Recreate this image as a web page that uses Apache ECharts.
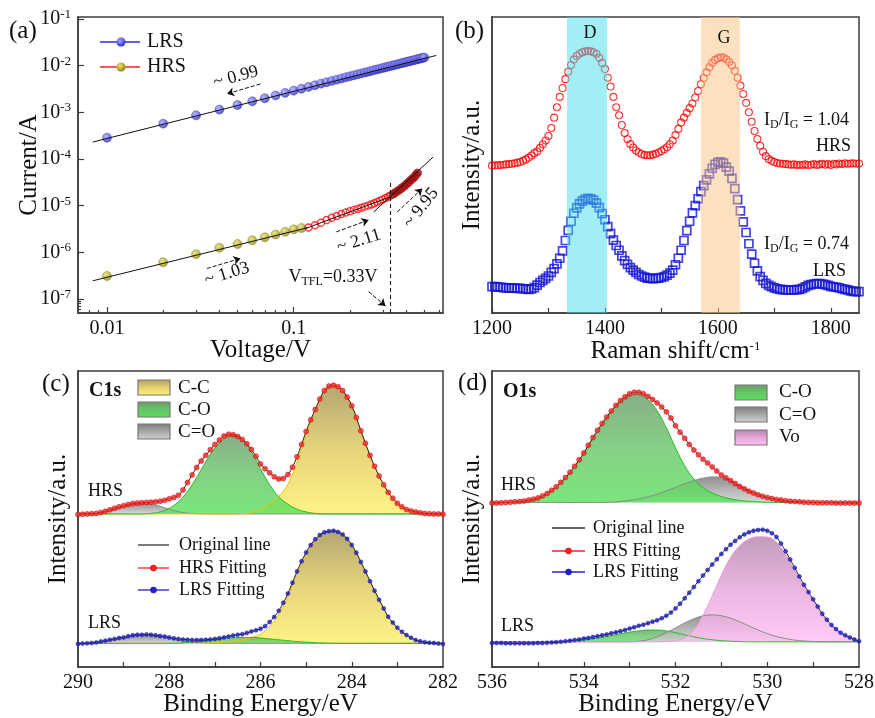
<!DOCTYPE html>
<html><head><meta charset="utf-8">
<script src="https://cdn.jsdelivr.net/npm/echarts@6/dist/echarts.min.js"></script>
<style>html,body{margin:0;padding:0;background:#fff}#c{width:875px;height:718px}</style>
</head><body><div id="c"></div>
<script>
const FONT = 'Liberation Serif';
const TXT = '#111';
const AX = '#3c3c3c';

// ---------- (a) I-V, log-log ----------
const voltageLRS = [0.01,0.02,0.03,0.04,0.05,0.06,0.07,0.08,0.09,0.10,0.11,0.12,0.13,0.14,0.15,0.16,0.17,0.18,0.19,0.20,0.21,0.22,0.23,0.24,0.25,0.26,0.27,0.28,0.29,0.30,0.31,0.32,0.33,0.34,0.35,0.36,0.37,0.38,0.39,0.40,0.41,0.42,0.43,0.44,0.45,0.46,0.47,0.48,0.49,0.50];
const currentLRS = [2.85e-4,5.7e-4,8.6e-4,1.14e-3,1.43e-3,1.72e-3,2.0e-3,2.3e-3,2.6e-3,2.9e-3,3.2e-3,3.5e-3,3.8e-3,4.1e-3,4.4e-3,4.7e-3,5.0e-3,5.3e-3,5.6e-3,5.9e-3,6.2e-3,6.5e-3,6.8e-3,7.1e-3,7.4e-3,7.7e-3,8.0e-3,8.3e-3,8.6e-3,8.9e-3,9.2e-3,9.5e-3,9.8e-3,1.01e-2,1.04e-2,1.07e-2,1.10e-2,1.13e-2,1.16e-2,1.19e-2,1.22e-2,1.25e-2,1.28e-2,1.31e-2,1.34e-2,1.37e-2,1.40e-2,1.43e-2,1.46e-2,1.49e-2];
const voltageHRS1 = [0.01,0.02,0.03,0.04,0.05,0.06,0.07,0.08,0.09,0.10,0.11];
const currentHRS1 = [3.1e-7,6.1e-7,9.1e-7,1.25e-6,1.5e-6,1.8e-6,2.1e-6,2.4e-6,2.75e-6,3.1e-6,3.3e-6];
const voltageHRS2 = [0.12,0.13,0.14,0.15,0.16,0.17,0.18,0.19,0.20,0.21,0.22,0.23,0.24,0.25,0.26,0.27,0.28,0.29,0.30,0.31,0.32,0.33];
const currentHRS2 = [3.4e-6,3.8e-6,4.3e-6,4.9e-6,5.5e-6,6.0e-6,6.6e-6,7.1e-6,7.6e-6,8.1e-6,8.5e-6,9.0e-6,9.5e-6,1.0e-5,1.06e-5,1.12e-5,1.2e-5,1.28e-5,1.36e-5,1.45e-5,1.55e-5,1.65e-5];
const voltageHRS3 = [0.34,0.35,0.36,0.37,0.38,0.39,0.40,0.41,0.42,0.43,0.44,0.45,0.46];
const currentHRS3 = [1.75e-5,1.9e-5,2.05e-5,2.2e-5,2.4e-5,2.6e-5,2.85e-5,3.1e-5,3.4e-5,3.7e-5,4.0e-5,4.5e-5,5.0e-5];
const fitLRS_V = [0.0084, 0.58];   const fitLRS_I = [2.3e-4, 1.65e-2];
const fitHRS1_V = [0.0084, 0.12];  const fitHRS1_I = [2.45e-7, 3.4e-6];
const fitHRS2_V = [0.115, 0.33];   const fitHRS2_I = [3.2e-6, 1.55e-5];
const fitHRS3_V = [0.268, 0.558];  const fitHRS3_I = [7.3e-6, 1.1e-4];
const vtflV = [0.33, 0.33];        const vtflI = [5e-8, 3.3e-5];
const arrowsA = [
  [[0.0663, 4.06e-3], [0.044, 2.48e-3]],
  [[0.0343, 4.5e-7], [0.0519, 7.4e-7]],
  [[0.169, 2.74e-6], [0.252, 4.9e-6]],
  [[0.358, 7.3e-6], [0.488, 2.32e-5]],
  [[0.252, 1.43e-7], [0.31, 7.1e-8]]
];
const xTicksA = [0.01, 0.1];
const xMinorA = [0.008,0.009,0.02,0.03,0.04,0.05,0.06,0.07,0.08,0.09,0.2,0.3,0.4,0.5,0.6];
const yTicksA = [1e-7,1e-6,1e-5,1e-4,1e-3,1e-2,1e-1];
const yMinorA = [6e-8,7e-8,8e-8,9e-8];

// ---------- (b) Raman ----------
const ramanShift = [1200,1205,1210,1215,1220,1225,1230,1235,1240,1245,1250,1255,1260,1265,1270,1275,1280,1285,1290,1295,1300,1305,1310,1315,1320,1325,1330,1335,1340,1345,1350,1355,1360,1365,1370,1375,1380,1385,1390,1395,1400,1405,1410,1415,1420,1425,1430,1435,1440,1445,1450,1455,1460,1465,1470,1475,1480,1485,1490,1495,1500,1505,1510,1515,1520,1525,1530,1535,1540,1545,1550,1555,1560,1565,1570,1575,1580,1585,1590,1595,1600,1605,1610,1615,1620,1625,1630,1635,1640,1645,1650,1655,1660,1665,1670,1675,1680,1685,1690,1695,1700,1705,1710,1715,1720,1725,1730,1735,1740,1745,1750,1755,1760,1765,1770,1775,1780,1785,1790,1795,1800,1805,1810,1815,1820,1825,1830,1835,1840,1845,1850];
const ramanHRS = [49.8,49.9,49.9,50.0,50.1,50.2,50.3,50.4,50.6,50.8,51.0,51.4,51.9,52.5,53.2,54.0,54.6,55.8,57.0,58.3,59.8,62.5,66.0,69.5,73.0,76.0,79.0,81.5,83.8,85.6,86.8,87.6,88.1,88.4,88.5,88.4,88.1,87.5,86.2,84.5,82.4,79.5,76.5,73.0,69.5,66.8,63.5,60.8,58.7,57.1,55.9,54.9,54.2,53.7,53.4,53.3,53.3,53.5,53.8,54.2,54.7,55.3,56.0,57.0,58.3,60.1,62.2,64.4,66.0,67.6,69.2,70.8,72.8,75.0,77.3,79.4,81.3,83.0,84.5,85.5,86.1,86.4,86.3,85.7,84.8,83.6,81.8,79.5,76.8,74.0,71.0,67.8,64.6,61.5,58.8,56.5,54.5,53.0,52.0,51.4,51.0,50.7,50.5,50.4,50.3,50.2,50.1,50.2,50.0,50.1,50.0,50.2,49.9,50.1,50.3,50.0,50.2,50.4,50.1,50.3,50.0,50.4,50.2,50.5,50.3,50.6,50.4,50.5,50.6,50.4,50.5];
const ramanLRS = [8.9,8.9,8.8,8.7,8.6,8.5,8.5,8.4,8.4,8.3,8.3,8.2,8.1,8.0,8.1,8.6,9.4,10.3,11.0,11.7,12.5,13.7,15.0,16.6,18.5,21.0,24.5,27.9,31.0,33.7,35.5,36.9,37.8,38.4,38.7,38.6,38.1,37.1,35.6,33.6,31.5,29.2,26.8,24.6,22.8,21.2,19.3,17.7,16.4,15.3,14.5,13.7,13.0,12.5,12.1,11.8,11.7,11.6,11.7,11.8,12.0,12.3,12.8,13.5,14.5,16.3,18.5,21.2,24.5,27.8,31.0,33.8,36.3,38.6,41.0,43.0,45.0,47.0,48.9,50.2,50.9,51.1,50.6,49.3,47.9,45.5,42.0,38.3,34.5,30.8,27.2,23.4,19.9,16.8,14.2,12.3,11.0,10.0,9.3,8.9,8.5,8.2,8.0,7.9,7.8,7.8,7.8,7.8,7.9,8.0,8.3,8.8,9.3,9.6,9.8,9.9,9.9,9.8,9.6,9.3,9.0,8.8,8.7,8.5,8.2,8.0,7.8,7.5,7.3,7.2,7.2];
const bandD = [1333, 1404];
const bandG = [1570, 1639];
const ramanTicks = [1200,1300,1400,1500,1600,1700,1800];
const ramanLabels = [1200,1400,1600,1800];

// ---------- (c) C1s ----------
const energyC1 = [290.0,289.9,289.8,289.7,289.6,289.5,289.4,289.3,289.2,289.1,289.0,288.9,288.8,288.7,288.6,288.5,288.4,288.3,288.2,288.1,288.0,287.9,287.8,287.7,287.6,287.5,287.4,287.3,287.2,287.1,287.0,286.9,286.8,286.7,286.6,286.5,286.4,286.3,286.2,286.1,286.0,285.9,285.8,285.7,285.6,285.5,285.4,285.3,285.2,285.1,285.0,284.9,284.8,284.7,284.6,284.5,284.4,284.3,284.2,284.1,284.0,283.9,283.8,283.7,283.6,283.5,283.4,283.3,283.2,283.1,283.0,282.9,282.8,282.7,282.6,282.5,282.4,282.3,282.2,282.1,282.0];
const c1sHRSfit = [51.5,51.6,51.7,51.8,51.9,52.2,52.6,53.1,53.6,54.1,54.5,54.9,55.2,55.4,55.5,55.6,55.7,55.8,56.0,56.3,56.8,57.3,58.0,59.8,62.3,64.9,67.4,69.6,71.5,73.4,75.2,76.7,78.0,78.6,78.5,77.9,76.9,75.4,73.5,71.2,68.6,67.0,65.6,64.3,63.5,63.7,65.0,67.5,71.0,75.2,79.6,83.5,87.0,90.5,93.4,94.9,95.2,94.7,93.4,91.2,88.3,84.3,79.8,75.6,71.5,67.8,64.5,61.6,59.0,57.0,55.3,54.1,53.2,52.7,52.4,52.1,51.9,51.8,51.7,51.7,51.6];
const c1sLRSfit = [7.8,7.9,8.0,8.1,8.3,8.6,8.9,9.2,9.5,9.8,10.0,10.4,10.7,10.9,10.9,11.0,10.9,10.7,10.5,10.3,10.0,9.7,9.5,9.3,9.2,9.1,9.1,9.1,9.2,9.3,9.5,9.7,10.0,10.3,10.6,10.9,11.1,11.5,12.0,12.4,12.9,13.8,15.2,16.9,19.0,21.7,24.8,28.5,32.3,35.7,38.7,41.2,43.2,44.6,45.5,45.9,46.0,45.6,44.8,43.3,41.2,38.6,35.5,32.3,29.0,25.8,22.7,19.8,17.0,15.0,13.3,11.9,10.8,9.9,9.1,8.7,8.4,8.2,8.1,7.9,7.8];
const energyC2 = [290.0,289.8,289.6,289.4,289.2,289.0,288.8,288.6,288.4,288.2,288.0,287.8,287.6,287.4,287.2,287.0,286.8,286.6,286.4,286.2,286.0,285.8,285.6,285.4,285.2,285.0,284.8,284.6,284.4,284.2,284.0,283.8,283.6,283.4,283.2,283.0,282.8,282.6,282.4,282.2,282.0];
const c1sHRS_CC = [51.7,51.7,51.7,51.7,51.7,51.7,51.7,51.7,51.7,51.7,51.7,51.7,51.7,51.7,51.7,51.7,51.7,51.7,51.8,52.2,53.2,55.2,57.7,61.7,69.4,78.8,86.6,93.4,95.1,93.3,88.3,79.8,71.5,64.5,59.0,55.3,53.2,52.4,51.9,51.7,51.7];
const c1sHRS_CO = [51.7,51.7,51.7,51.7,51.7,51.7,51.7,51.7,51.9,52.4,53.6,55.8,59.3,64.0,69.3,74.0,77.3,78.4,77.0,72.8,67.0,61.6,57.5,55.0,53.3,52.4,51.9,51.7,51.7,51.7,51.7,51.7,51.7,51.7,51.7,51.7,51.7,51.7,51.7,51.7,51.7];
const c1sHRS_CdO = [51.7,51.8,52.0,52.5,53.3,54.3,55.1,55.4,55.1,54.3,53.3,52.5,52.0,51.8,51.7,51.7,51.7,51.7,51.7,51.7,51.7,51.7,51.7,51.7,51.7,51.7,51.7,51.7,51.7,51.7,51.7,51.7,51.7,51.7,51.7,51.7,51.7,51.7,51.7,51.7,51.7];
const c1sLRS_CC = [8.0,8.0,8.0,8.0,8.0,8.0,8.0,8.0,8.0,8.0,8.0,8.0,8.0,8.0,8.1,8.2,8.4,8.7,9.1,10.0,11.1,13.7,17.8,23.9,31.7,38.3,43.0,45.4,45.9,44.8,41.2,35.5,29.0,22.7,17.0,13.3,10.8,9.1,8.4,8.1,8.0];
const c1sLRS_CO = [8.0,8.0,8.0,8.0,8.0,8.0,8.0,8.0,8.0,8.0,8.0,8.1,8.3,8.6,9.0,9.3,9.6,9.9,10.0,10.0,9.8,9.5,9.2,8.9,8.6,8.4,8.2,8.1,8.0,8.0,8.0,8.0,8.0,8.0,8.0,8.0,8.0,8.0,8.0,8.0,8.0];
const c1sLRS_CdO = [8.0,8.0,8.2,8.6,9.2,9.8,10.4,10.7,10.6,10.1,9.5,9.0,8.6,8.3,8.1,8.0,8.0,8.0,8.0,8.0,8.0,8.0,8.0,8.0,8.0,8.0,8.0,8.0,8.0,8.0,8.0,8.0,8.0,8.0,8.0,8.0,8.0,8.0,8.0,8.0,8.0];
const c1sBaseHRS = 51.7, c1sBaseLRS = 8.0;
const c1sTicks = [283,284,285,286,287,288,289];
const c1sLabels = [282,284,286,288,290];

// ---------- (d) O1s ----------
const energyD1 = [536.0,535.9,535.8,535.7,535.6,535.5,535.4,535.3,535.2,535.1,535.0,534.9,534.8,534.7,534.6,534.5,534.4,534.3,534.2,534.1,534.0,533.9,533.8,533.7,533.6,533.5,533.4,533.3,533.2,533.1,533.0,532.9,532.8,532.7,532.6,532.5,532.4,532.3,532.2,532.1,532.0,531.9,531.8,531.7,531.6,531.5,531.4,531.3,531.2,531.1,531.0,530.9,530.8,530.7,530.6,530.5,530.4,530.3,530.2,530.1,530.0,529.9,529.8,529.7,529.6,529.5,529.4,529.3,529.2,529.1,529.0,528.9,528.8,528.7,528.6,528.5,528.4,528.3,528.2,528.1,528.0];
const o1sHRSfit = [55.4,55.4,55.5,55.6,55.7,55.8,55.9,56.1,56.4,56.7,57.1,57.8,58.6,59.7,60.9,62.4,64.0,65.8,67.8,70.0,72.3,74.9,77.5,80.0,82.3,84.5,86.5,88.4,90.0,91.3,92.3,92.8,92.8,92.3,91.4,90.4,89.2,87.8,86.2,84.1,81.5,79.3,77.3,75.2,73.3,71.7,70.2,68.9,67.6,66.2,64.9,63.9,63.0,62.0,61.0,60.2,59.4,58.8,58.2,57.7,57.3,56.9,56.6,56.4,56.2,56.0,55.9,55.8,55.7,55.6,55.6,55.5,55.5,55.5,55.5,55.4,55.4,55.4,55.4,55.4,55.4];
const o1sLRSfit = [8.1,8.1,8.1,8.0,8.0,8.0,8.0,8.0,8.0,8.0,8.1,8.1,8.2,8.3,8.4,8.5,8.7,8.9,9.1,9.3,9.6,9.8,10.1,10.4,10.7,11.0,11.4,11.7,12.1,12.5,13.0,13.4,13.9,14.3,14.8,15.3,15.8,16.5,17.3,18.4,19.8,21.4,23.2,25.1,27.0,29.0,30.9,32.8,34.6,36.4,38.2,39.8,41.3,42.6,43.8,44.8,45.5,46.0,46.3,46.4,46.0,45.2,43.9,41.7,39.1,36.3,33.5,30.6,27.8,25.3,22.9,20.4,18.0,16.0,14.2,12.8,11.6,10.7,10.0,9.3,8.7];
const energyD2 = [536.0,535.8,535.6,535.4,535.2,535.0,534.8,534.6,534.4,534.2,534.0,533.8,533.6,533.4,533.2,533.0,532.8,532.6,532.4,532.2,532.0,531.8,531.6,531.4,531.2,531.0,530.8,530.6,530.4,530.2,530.0,529.8,529.6,529.4,529.2,529.0,528.8,528.6,528.4,528.2,528.0];
const o1sHRS_CO = [55.6,55.6,55.7,55.9,56.3,57.0,58.5,60.8,63.9,67.7,72.2,77.3,82.0,86.2,89.6,91.7,92.0,90.3,86.6,80.8,74.0,68.0,63.5,60.6,58.8,57.6,56.8,56.3,56.0,55.8,55.7,55.6,55.6,55.6,55.6,55.6,55.6,55.6,55.6,55.6,55.6];
const o1sHRS_CdO = [55.6,55.6,55.6,55.6,55.6,55.6,55.6,55.6,55.6,55.6,55.6,55.6,55.6,55.7,55.9,56.3,56.8,57.5,58.4,59.5,60.7,61.9,63.0,63.8,64.2,64.0,63.1,61.4,59.8,58.3,57.2,56.5,56.0,55.8,55.7,55.6,55.6,55.6,55.6,55.6,55.6];
const o1sLRS_CO = [8.5,8.5,8.5,8.5,8.5,8.5,8.5,8.5,8.6,8.8,9.1,9.5,10.0,10.6,11.2,11.8,12.2,12.5,12.5,12.2,11.6,10.9,10.2,9.6,9.2,8.9,8.7,8.6,8.5,8.5,8.5,8.5,8.5,8.5,8.5,8.5,8.5,8.5,8.5,8.5,8.5];
const o1sLRS_CdO = [8.5,8.5,8.5,8.5,8.5,8.5,8.5,8.5,8.5,8.5,8.5,8.5,8.5,8.5,8.5,8.5,8.7,9.2,10.2,11.6,13.2,14.9,16.3,17.3,17.6,17.3,16.5,15.3,13.9,12.5,11.3,10.3,9.6,9.1,8.8,8.6,8.5,8.5,8.5,8.5,8.5];
const o1sLRS_Vo = [8.5,8.5,8.5,8.5,8.5,8.5,8.5,8.5,8.5,8.5,8.5,8.5,8.5,8.5,8.5,8.5,8.5,8.5,8.5,8.6,8.9,9.8,12.5,17.5,24.0,31.0,37.0,41.0,43.2,44.0,43.9,42.2,38.0,32.6,27.0,22.2,17.5,13.8,11.3,9.8,8.7];
const o1sBaseHRS = 55.6, o1sBaseLRS = 8.5;
const o1sTicks = [529,530,531,532,533,534,535];
const o1sLabels = [528,530,532,534,536];

// ---------- helpers ----------
const pairs = (xs, ys) => xs.map((x, i) => [x, ys[i]]);
const lin = (stops) => ({type:'linear', x:0, y:0, x2:0, y2:1, colorStops: stops.map((c, i) => ({offset: i / (stops.length - 1), color: c}))});
const rad = (c0, c1) => ({type:'radial', x:0.38, y:0.35, r:0.7, colorStops:[{offset:0, color:c0},{offset:1, color:c1}]});
const GRAD = {
  CC: ['#ad9f66', '#e4d070', '#fff27c'],
  CO: ['#6b9a6b', '#66c566', '#58e05c'],
  CdO: ['#7c7c7c', '#a8a8a8', '#d2d2d2'],
  Vo: ['#b386aa', '#e6a6d8', '#ffc0f4']
};
const LINEC = {CC:'#f2c400', CO:'#1fc21f', CdO:'#8a8a8a', Vo:'#f09ae0'};
const OPA = {CC:0.92, CO:0.8, CdO:0.85, Vo:0.82};

function comp(key, xs, ys, base, idx) {
  return {type:'line', xAxisIndex: idx, yAxisIndex: idx, data: pairs(xs, ys), smooth: 0.4, symbol:'none', silent:true, z:2,
    lineStyle:{color: LINEC[key], width: 1}, areaStyle:{origin: base, color: lin(GRAD[key]), opacity: OPA[key]}};
}
function orig(xs, ys, idx) {
  return {type:'line', xAxisIndex: idx, yAxisIndex: idx, data: pairs(xs, ys), smooth: 0.4, symbol:'none', silent:true, z:3,
    lineStyle:{color:'#222', width:1}};
}
function fitPts(xs, ys, idx, color, border, size) {
  return {type:'scatter', xAxisIndex: idx, yAxisIndex: idx, data: pairs(xs, ys), symbol:'circle', symbolSize: size, silent:true, z:4,
    itemStyle:{color: color, borderColor: border, borderWidth: 0.6}};
}

const tickStyle = {lineStyle:{color: AX, width: 1.2}};
const axisLineStyle = {show:true, lineStyle:{color: AX, width: 1.5}};
const lblStyle = {fontFamily: FONT, fontSize: 20, color: TXT};
const nameStyle = {fontFamily: FONT, fontSize: 25, color: TXT};
const supRich = {sup:{fontFamily: FONT, fontSize: 13, color: TXT, padding:[0,0,9,0]}};

function gridBox(left, top, width, height) {
  return {left, top, width, height, show:true, borderColor: AX, borderWidth: 1.5, backgroundColor:'transparent', containLabel:false, outerBoundsMode:'none'};
}
function valX(grid, min, max, inverse, ticks, labels, name, gap, rich) {
  return {type:'value', gridIndex: grid, min, max, inverse, position:'bottom',
    axisLine: axisLineStyle, splitLine:{show:false},
    axisTick:{show:true, inside:true, length:5, customValues: ticks, ...tickStyle},
    axisLabel:{show:true, customValues: labels, margin: 6, formatter: v => String(v), ...lblStyle},
    name, nameLocation:'middle', nameGap: gap, nameMoveOverlap:false, nameTextStyle:{...nameStyle, rich: rich || {}}};
}
function blankY(grid, name) {
  return {type:'value', gridIndex: grid, min:0, max:100, axisLine: axisLineStyle, axisTick:{show:false}, axisLabel:{show:false}, splitLine:{show:false},
    name, nameLocation:'middle', nameGap: 7, nameMoveOverlap:false, nameTextStyle: nameStyle};
}

const series = [
  // (a)
  {type:'scatter', xAxisIndex:0, yAxisIndex:0, data: pairs(voltageLRS, currentLRS), symbol:'circle', symbolSize:9, z:2,
   itemStyle:{color: rad('#a8a8ff', '#2424c8'), borderColor:'#3030b0', borderWidth:0.5}},
  {type:'scatter', xAxisIndex:0, yAxisIndex:0, data: pairs(voltageHRS1, currentHRS1), symbol:'circle', symbolSize:9, z:2,
   itemStyle:{color: rad('#e8e070', '#8c8400'), borderColor:'#7a7400', borderWidth:0.5}},
  {type:'scatter', xAxisIndex:0, yAxisIndex:0, data: pairs(voltageHRS2, currentHRS2), symbol:'circle', symbolSize:7, z:2,
   itemStyle:{color:'rgba(255,255,255,0)', borderColor:'#ff1010', borderWidth:1.4}},
  {type:'scatter', xAxisIndex:0, yAxisIndex:0, data: pairs(voltageHRS3, currentHRS3), symbol:'circle', symbolSize:8, z:2,
   itemStyle:{color:'#8e0c0c', borderColor:'#c02020', borderWidth:1}},
  {type:'line', xAxisIndex:0, yAxisIndex:0, data: pairs(fitLRS_V, fitLRS_I), symbol:'none', z:3, lineStyle:{color:'#111', width:1},
   markLine:{silent:true, symbol:['none','arrow'], symbolSize:7, label:{show:false}, lineStyle:{color:'#111', width:1, type:[4,2]},
     data: arrowsA.map(a => [{coord:a[0]}, {coord:a[1]}])}},
  {type:'line', xAxisIndex:0, yAxisIndex:0, data: pairs(fitHRS1_V, fitHRS1_I), symbol:'none', z:3, lineStyle:{color:'#111', width:1}},
  {type:'line', xAxisIndex:0, yAxisIndex:0, data: pairs(fitHRS2_V, fitHRS2_I), symbol:'none', z:3, lineStyle:{color:'#111', width:1}},
  {type:'line', xAxisIndex:0, yAxisIndex:0, data: pairs(fitHRS3_V, fitHRS3_I), symbol:'none', z:3, lineStyle:{color:'#111', width:1}},
  {type:'line', xAxisIndex:0, yAxisIndex:0, data: pairs(vtflV, vtflI), symbol:'none', z:3, lineStyle:{color:'#111', width:1, type:[4,3]}},
  // (b)
  {type:'scatter', xAxisIndex:2, yAxisIndex:2, data: pairs(ramanShift, ramanHRS), symbol:'circle', symbolSize:7, z:2,
   itemStyle:{color:'rgba(255,255,255,0)', borderColor:'#ff0000', borderWidth:1.1}},
  {type:'scatter', xAxisIndex:2, yAxisIndex:2, data: pairs(ramanShift, ramanLRS), symbol:'rect', symbolSize:8, z:2,
   itemStyle:{color:'rgba(255,255,255,0)', borderColor:'#1414d2', borderWidth:1.7}},
  {type:'line', xAxisIndex:2, yAxisIndex:2, data: [], z:5, silent:true,
   markArea:{silent:true, z:10, data:[
     [{xAxis: bandD[0], itemStyle:{color:'rgba(70,222,236,0.5)'}}, {xAxis: bandD[1]}],
     [{xAxis: bandG[0], itemStyle:{color:'rgba(250,196,130,0.5)'}}, {xAxis: bandG[1]}]
   ]}},
  // (c)
  comp('CdO', energyC2, c1sHRS_CdO, c1sBaseHRS, 3),
  comp('CC', energyC2, c1sHRS_CC, c1sBaseHRS, 3),
  comp('CO', energyC2, c1sHRS_CO, c1sBaseHRS, 3),
  comp('CdO', energyC2, c1sLRS_CdO, c1sBaseLRS, 3),
  comp('CC', energyC2, c1sLRS_CC, c1sBaseLRS, 3),
  comp('CO', energyC2, c1sLRS_CO, c1sBaseLRS, 3),
  orig(energyC1, c1sHRSfit, 3),
  orig(energyC1, c1sLRSfit, 3),
  fitPts(energyC1, c1sHRSfit, 3, '#ff2a2a', '#c00000', 5),
  fitPts(energyC1, c1sLRSfit, 3, '#2020d0', '#101090', 4),
  // (d)
  comp('CdO', energyD2, o1sHRS_CdO, o1sBaseHRS, 4),
  comp('CO', energyD2, o1sHRS_CO, o1sBaseHRS, 4),
  comp('CO', energyD2, o1sLRS_CO, o1sBaseLRS, 4),
  comp('CdO', energyD2, o1sLRS_CdO, o1sBaseLRS, 4),
  comp('Vo', energyD2, o1sLRS_Vo, o1sBaseLRS, 4),
  orig(energyD1, o1sHRSfit, 4),
  orig(energyD1, o1sLRSfit, 4),
  fitPts(energyD1, o1sHRSfit, 4, '#ff2a2a', '#c00000', 5),
  fitPts(energyD1, o1sLRSfit, 4, '#2020d0', '#101090', 4)
];

// ---------- annotations (pixel layout) ----------
const T = (x, y, text, size, opt) => Object.assign({type:'text', x, y, z:100, silent:true,
  style:Object.assign({text, fontFamily: FONT, fontSize: size, fill: TXT, align:'left', verticalAlign:'middle'}, (opt && opt.style) || {})},
  opt && opt.rotation !== undefined ? {rotation: opt.rotation} : {});
const subRich = (s) => ({sub:{fontFamily: FONT, fontSize: s, fill: TXT, padding:[10,0,0,0]}});
const swatch = (x, y, key) => ({type:'rect', z:100, silent:true, shape:{x, y, width:32, height:15},
  style:{fill: lin(GRAD[key]), stroke:'#777', lineWidth:1.2}});
const lineKey = (x1, x2, y, color, dot) => {
  const out = [{type:'line', z:100, silent:true, shape:{x1, y1:y, x2, y2:y}, style:{stroke: color, lineWidth:1.3}}];
  if (dot) out.push({type:'circle', z:101, silent:true, shape:{cx:(x1+x2)/2, cy:y, r:3}, style:{fill: color, stroke: dot, lineWidth:0.6}});
  return out;
};

const graphic = [
  T(9, 31, '(a)', 25), T(455, 31, '(b)', 25), T(42, 384, '(c)', 25), T(458, 383, '(d)', 25),
  // (a) legend
  ...lineKey(100, 140, 42, '#2a2ae0'),
  {type:'circle', z:101, silent:true, shape:{cx:121, cy:42, r:4.5}, style:{fill: rad('#a8a8ff', '#2424c8')}},
  T(147, 42, 'LRS', 20),
  ...lineKey(100, 140, 67, '#ff2020'),
  {type:'circle', z:101, silent:true, shape:{cx:121, cy:67, r:4.5}, style:{fill: rad('#e8e070', '#8c8400')}},
  T(147, 67, 'HRS', 20),
  // (a) annotations
  T(236, 77, '~ 0.99', 18, {rotation:0.26, style:{align:'center'}}),
  T(227, 274, '~ 1.03', 18, {rotation:0.3, style:{align:'center'}}),
  T(359, 241, '~ 2.11', 18, {rotation:0.3, style:{align:'center'}}),
  T(421, 208, '~ 9.95', 18, {rotation:0.9, style:{align:'center'}}),
  T(333, 277, 'V{sub|TFL}=0.33V', 18, {style:{align:'center', rich: subRich(12)}}),
  // (b)
  T(590, 33, 'D', 18, {style:{align:'center'}}),
  T(724, 38, 'G', 18, {style:{align:'center'}}),
  T(849, 120, 'I{sub|D}/I{sub|G} = 1.04', 18, {style:{align:'right', rich: subRich(12)}}),
  T(851, 146, 'HRS', 18, {style:{align:'right'}}),
  T(849, 244, 'I{sub|D}/I{sub|G} = 0.74', 18, {style:{align:'right', rich: subRich(12)}}),
  T(846, 271, 'LRS', 18, {style:{align:'right'}}),
  // (c)
  T(89, 391, 'C1s', 20, {style:{fontWeight:'bold'}}),
  swatch(138, 380, 'CC'), T(178, 388, 'C-C', 19),
  swatch(138, 402, 'CO'), T(178, 410, 'C-O', 19),
  swatch(138, 424, 'CdO'), T(178, 432, 'C=O', 19),
  T(88, 491, 'HRS', 18), T(88, 623, 'LRS', 18),
  ...lineKey(138, 169, 545, '#333'), T(179, 545, 'Original line', 18),
  ...lineKey(138, 169, 568, '#ff2020', '#c00000'), T(179, 568, 'HRS Fitting', 18),
  ...lineKey(138, 169, 590, '#2020d0', '#101090'), T(179, 590, 'LRS Fitting', 18),
  // (d)
  T(503, 392, 'O1s', 20, {style:{fontWeight:'bold'}}),
  swatch(735, 385, 'CO'), T(779, 392, 'C-O', 19),
  swatch(735, 407, 'CdO'), T(779, 415, 'C=O', 19),
  swatch(735, 430, 'Vo'), T(779, 437, 'Vo', 19),
  T(501, 485, 'HRS', 18), T(501, 626, 'LRS', 18),
  ...lineKey(552, 585, 528, '#333'), T(593, 528, 'Original line', 18),
  ...lineKey(552, 585, 551, '#ff2020', '#c00000'), T(593, 551, 'HRS Fitting', 18),
  ...lineKey(552, 585, 572, '#2020d0', '#101090'), T(593, 572, 'LRS Fitting', 18)
];

const option = {
  animation: false,
  backgroundColor: '#fff',
  textStyle: {fontFamily: FONT},
  grid: [gridBox(78, 17, 365, 296), gridBox(492, 17, 367, 296), gridBox(78, 371, 365, 296), gridBox(492, 371, 367, 296)],
  xAxis: [
    {type:'log', logBase:10, gridIndex:0, min:0.007, max:0.63, position:'bottom',
     axisLine: axisLineStyle, splitLine:{show:false}, minorTick:{show:false},
     axisTick:{show:true, inside:true, length:6, customValues: xTicksA, ...tickStyle},
     axisLabel:{show:true, customValues: xTicksA, margin:6, formatter: v => String(v), ...lblStyle},
     name:'Voltage/V', nameLocation:'middle', nameGap:25, nameMoveOverlap:false, nameTextStyle: nameStyle},
    {type:'log', logBase:10, gridIndex:0, min:0.007, max:0.63, position:'bottom',
     axisLine:{show:false}, splitLine:{show:false}, axisLabel:{show:false},
     axisTick:{show:true, inside:true, length:3, customValues: xMinorA, ...tickStyle}},
    valX(1, 1200, 1850, false, ramanTicks, ramanLabels, 'Raman shift/cm{sup|-1}', 26, supRich),
    valX(2, 282, 290, true, c1sTicks, c1sLabels, 'Binding Energy/eV', 25),
    valX(3, 528, 536, true, o1sTicks, o1sLabels, 'Binding Energy/eV', 25)
  ],
  yAxis: [
    {type:'log', logBase:10, gridIndex:0, min:5e-8, max:0.11, position:'left',
     axisLine: axisLineStyle, splitLine:{show:false}, minorTick:{show:false},
     axisTick:{show:true, inside:true, length:6, customValues: yTicksA, ...tickStyle},
     axisLabel:{show:true, customValues: yTicksA, margin:7, formatter: v => '10{sup|' + Math.round(Math.log10(v)) + '}', ...lblStyle, rich: supRich},
     name:'Current/A', nameLocation:'middle', nameGap:36, nameMoveOverlap:false, nameTextStyle: nameStyle},
    {type:'log', logBase:10, gridIndex:0, min:5e-8, max:0.11, position:'left',
     axisLine:{show:false}, splitLine:{show:false}, axisLabel:{show:false},
     axisTick:{show:true, inside:true, length:3, customValues: yMinorA, ...tickStyle}},
    blankY(1, 'Intensity/a.u.'),
    blankY(2, 'Intensity/a.u.'),
    blankY(3, 'Intensity/a.u.')
  ],
  series,
  graphic
};

const chart = echarts.init(document.getElementById('c'), null, {renderer:'canvas'});
chart.setOption(option);
</script></body></html>
